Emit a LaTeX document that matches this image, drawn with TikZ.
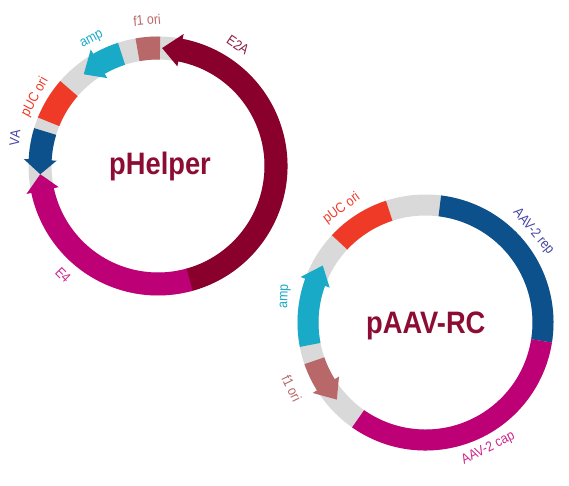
\documentclass[tikz,border=0pt]{standalone}
\usepackage{fontspec}
\setmainfont{Liberation Sans}
\newfontfamily\labfont[FakeStretch=0.88]{Liberation Sans}
\newfontfamily\titlefont[FakeStretch=0.88]{Liberation Sans}
\definecolor{ctitle}{RGB}{140,12,52}
\definecolor{ce2a}{RGB}{138,0,44}
\definecolor{ce4}{RGB}{190,0,118}
\definecolor{cva}{RGB}{12,80,140}
\definecolor{cpuc}{RGB}{240,58,40}
\definecolor{camp}{RGB}{24,170,198}
\definecolor{cf1}{RGB}{184,104,104}
\definecolor{cgray}{RGB}{217,217,217}
\definecolor{clabblue}{RGB}{70,70,165}
\definecolor{clabe2a}{RGB}{140,30,70}
\definecolor{clabe4}{RGB}{205,40,140}
\newcommand\ringseg[3]{%
  \fill[#3] (#1:\rout) arc[start angle=#1,end angle=#2,radius=\rout] -- (#2:\rin) arc[start angle=#2,end angle=#1,radius=\rin] -- cycle;}
\newcommand\arrhead[3]{%
  \fill[#3] (#1:{\rin-5}) -- (#1:{\rout+5}) -- (#2:\rmid) -- cycle;}
\tikzset{
  lab/.style={inner sep=0pt, font=\labfont\fontsize{14}{14}\selectfont},
  ptitle/.style={inner sep=0pt, anchor=base, text=ctitle, font=\titlefont\fontsize{31}{31}\selectfont\bfseries}
}
\begin{document}
\begin{tikzpicture}[x=1pt,y=1pt]
\useasboundingbox (0,0) rectangle (569,485);
% ---------------- pHelper ----------------
\begin{scope}[shift={(158,319)}]
  \def\rin{106.5}\def\rout{129.5}\def\rmid{118}
  \fill[cgray, even odd rule] (0,0) circle[radius=\rout] (0,0) circle[radius=\rin];
  % E2A
  \ringseg{-75}{79.5}{ce2a}
  \arrhead{79}{88}{ce2a}
  % f1 ori
  \ringseg{89}{100}{cf1}
  % amp
  \ringseg{108}{120.5}{camp}
  \arrhead{120}{129}{camp}
  % pUC ori
  \ringseg{139}{158}{cpuc}
  % E4
  \ringseg{191.5}{285.5}{ce4}
  \arrhead{192}{184}{ce4}
  % VA
  \ringseg{163}{177.5}{cva}
  \arrhead{177}{184}{cva}
\end{scope}
\node[ptitle] (helper) at (160,310) {pHelper};
\node[lab, text=cf1, rotate=5] (lf1a) at (147,465) {f1 ori};
\node[lab, text=clabe2a, rotate=-34] (le2a) at (238,440) {E2A};
\node[lab, text=camp, rotate=28] (lampa) at (92,445) {amp};
\node[lab, text=cpuc, rotate=61] (lpuca) at (35,388) {pUC ori};
\node[lab, text=clabblue, rotate=84] (lva) at (15,347) {VA};
\node[lab, text=clabe4, rotate=-45] (le4) at (63,210) {E4};
% ---------------- pAAV-RC ----------------
\begin{scope}[shift={(425.5,162.5)}]
  \def\rin{107}\def\rout{128}\def\rmid{117.5}
  \fill[cgray, even odd rule] (0,0) circle[radius=\rout] (0,0) circle[radius=\rin];
  % AAV-2 rep
  \ringseg{-9}{83}{cva}
  % pUC ori
  \ringseg{108}{137}{cpuc}
  % amp
  \ringseg{159.5}{191}{camp}
  \arrhead{160}{151}{camp}
  % f1 ori
  \ringseg{199}{212.5}{cf1}
  \arrhead{212}{221}{cf1}
  % AAV-2 cap
  \ringseg{235}{351}{ce4}
\end{scope}
\node[ptitle] (aav) at (425.8,152) {pAAV-RC};
\node[lab, text=cpuc, rotate=36] (lpucb) at (341.7,276.7) {pUC ori};
\node[lab, text=clabblue, rotate=-50] (lrep) at (533.3,253.3) {AAV-2 rep};
\node[lab, text=camp, rotate=88] (lampb) at (285.3,188.7) {amp};
\node[lab, text=cf1, rotate=-64] (lf1b) at (291.7,96.7) {f1 ori};
\node[lab, text=clabe4, rotate=26.5] (lcap) at (488.3,36.7) {AAV-2 cap};
\end{tikzpicture}
\end{document}
